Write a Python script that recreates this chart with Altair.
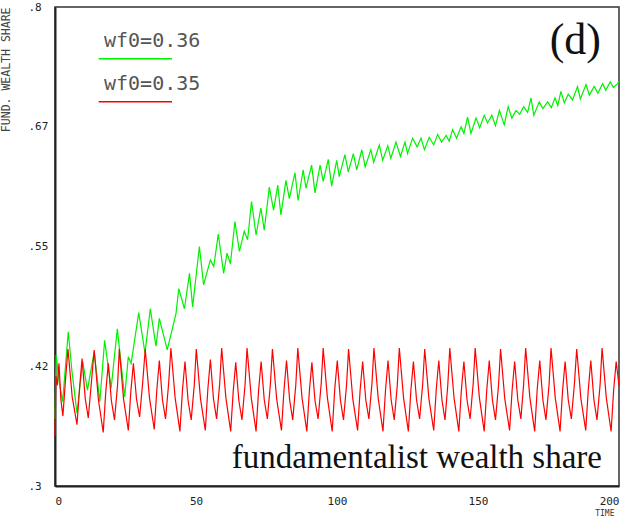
import altair as alt
import pandas as pd

# ---- data ----
series_names = ["wf0=0.36", "wf0=0.35"]
series_colors = ["#00f000", "#ff0000"]

green_t = [0.0, 0.4, 1.4, 2.7, 4.7, 6.0, 7.8, 9.8, 11.5, 13.9, 15.9, 17.6, 19.9, 22.1, 24.7, 26.0, 27.0,
           29.7, 31.9, 33.8, 35.8, 37.0, 39.8, 42.9, 43.9, 45.9, 47.7, 48.8, 51.2, 52.7, 55.1, 56.3,
           57.9, 59.8, 61.0, 62.2, 63.8, 65.4, 67.1, 68.3, 69.7, 71.3, 73.0, 74.2, 76.0, 77.5, 79.0,
           80.1, 81.9, 83.1, 85.1, 86.2, 88.0, 89.0, 91.0, 92.2, 94.0, 95.1, 96.9, 98.1, 99.9, 100.8,
           102.8, 104.0, 105.8, 107.0, 108.8, 110.0, 112.0, 113.0, 115.0, 116.2, 118.0, 119.1, 120.9,
           122.5, 124.1, 125.0, 126.8, 128.4, 129.8, 131.0, 132.7, 134.3, 135.7, 137.1, 138.7, 139.8,
           141.0, 142.4, 144.0, 145.0, 146.3, 147.5, 149.3, 150.6, 152.2, 153.4, 154.9, 156.2, 157.6,
           159.3, 160.7, 162.0, 163.5, 164.8, 166.2, 167.6, 168.8, 169.8, 171.7, 173.0, 174.7, 176.0,
           177.3, 178.3, 179.4, 180.6, 182.0, 183.5, 185.3, 186.3, 188.3, 189.5, 191.2, 192.5, 194.2,
           195.3, 196.9, 198.0, 199.5, 200.0]
green_v = [0.370, 0.437, 0.410, 0.388, 0.461, 0.420, 0.376, 0.430, 0.400, 0.440, 0.388, 0.452, 0.402,
           0.464, 0.393, 0.435, 0.428, 0.481, 0.439, 0.485, 0.446, 0.475, 0.442, 0.480, 0.506, 0.485,
           0.522, 0.487, 0.550, 0.510, 0.536, 0.529, 0.563, 0.522, 0.543, 0.532, 0.576, 0.545, 0.566,
           0.557, 0.597, 0.562, 0.590, 0.567, 0.612, 0.588, 0.614, 0.583, 0.619, 0.600, 0.627, 0.598,
           0.630, 0.611, 0.635, 0.606, 0.635, 0.618, 0.641, 0.613, 0.640, 0.623, 0.646, 0.628, 0.647,
           0.630, 0.651, 0.633, 0.651, 0.638, 0.656, 0.640, 0.655, 0.642, 0.659, 0.644, 0.659, 0.647,
           0.663, 0.654, 0.663, 0.651, 0.664, 0.656, 0.667, 0.659, 0.666, 0.660, 0.672, 0.663, 0.675,
           0.668, 0.685, 0.668, 0.684, 0.674, 0.687, 0.679, 0.687, 0.676, 0.692, 0.677, 0.696, 0.684,
           0.692, 0.688, 0.696, 0.690, 0.705, 0.687, 0.701, 0.694, 0.701, 0.695, 0.705, 0.697, 0.712,
           0.700, 0.709, 0.703, 0.717, 0.704, 0.719, 0.708, 0.717, 0.710, 0.720, 0.713, 0.722, 0.716,
           0.720, 0.722]

red_t = [0.0, 0.3, 0.8, 1.4, 2.1, 2.8, 3.7,
         4.6, 6.1, 7.8, 8.7, 9.6, 10.7, 11.8, 12.9,
         13.9, 15.4, 17.1, 18.0, 18.9, 20.0, 21.1, 22.2,
         22.8, 24.3, 26.0, 26.9, 27.8, 28.9, 30.0, 31.1,
         32.0, 33.5, 35.2, 36.1, 37.0, 38.1, 39.2, 40.3,
         41.1, 42.6, 44.3, 45.2, 46.1, 47.2, 48.3, 49.4,
         50.1, 51.6, 53.3, 54.2, 55.1, 56.2, 57.3, 58.4,
         59.1, 60.6, 62.3, 63.2, 64.1, 65.2, 66.3, 67.4,
         68.1, 69.6, 71.3, 72.2, 73.1, 74.2, 75.3, 76.4,
         77.1, 78.6, 80.3, 81.2, 82.1, 83.2, 84.3, 85.4,
         86.1, 87.6, 89.3, 90.2, 91.1, 92.2, 93.3, 94.4,
         95.1, 96.6, 98.3, 99.2, 100.1, 101.2, 102.3, 103.4,
         104.1, 105.6, 107.3, 108.2, 109.1, 110.2, 111.3, 112.4,
         113.1, 114.6, 116.3, 117.2, 118.1, 119.2, 120.3, 121.4,
         122.1, 123.6, 125.3, 126.2, 127.1, 128.2, 129.3, 130.4,
         131.1, 132.6, 134.3, 135.2, 136.1, 137.2, 138.3, 139.3,
         140.0, 141.5, 143.2, 144.1, 145.0, 146.1, 147.2, 148.3,
         149.0, 150.5, 152.2, 153.1, 154.0, 155.1, 156.2, 157.3,
         158.0, 159.5, 161.2, 162.1, 163.0, 164.1, 165.2, 166.2,
         166.9, 168.4, 170.1, 171.0, 171.9, 173.0, 174.1, 175.2,
         175.9, 177.4, 179.1, 180.0, 180.9, 182.0, 183.1, 184.2,
         185.0, 186.5, 188.2, 189.1, 190.0, 191.1, 192.2, 193.3,
         194.0, 195.5, 197.2, 198.1, 199.0, 200.0]
red_v = [0.352, 0.415, 0.405, 0.428, 0.390, 0.373, 0.410,
         0.443, 0.393, 0.364, 0.402, 0.433, 0.392, 0.371, 0.408,
         0.442, 0.390, 0.356, 0.398, 0.428, 0.389, 0.369, 0.406,
         0.443, 0.391, 0.358, 0.399, 0.428, 0.391, 0.372, 0.408,
         0.443, 0.392, 0.359, 0.400, 0.431, 0.390, 0.370, 0.407,
         0.444, 0.392, 0.357, 0.400, 0.430, 0.389, 0.369, 0.406,
         0.443, 0.391, 0.358, 0.401, 0.432, 0.391, 0.370, 0.407,
         0.444, 0.392, 0.357, 0.399, 0.429, 0.389, 0.369, 0.406,
         0.444, 0.392, 0.357, 0.400, 0.430, 0.390, 0.370, 0.407,
         0.443, 0.391, 0.358, 0.400, 0.431, 0.390, 0.369, 0.406,
         0.444, 0.392, 0.357, 0.399, 0.429, 0.389, 0.370, 0.407,
         0.444, 0.392, 0.357, 0.401, 0.431, 0.390, 0.369, 0.406,
         0.443, 0.391, 0.358, 0.400, 0.430, 0.390, 0.370, 0.407,
         0.444, 0.392, 0.357, 0.400, 0.431, 0.390, 0.369, 0.406,
         0.444, 0.392, 0.357, 0.400, 0.430, 0.390, 0.370, 0.407,
         0.443, 0.391, 0.358, 0.401, 0.431, 0.390, 0.369, 0.406,
         0.444, 0.392, 0.357, 0.400, 0.430, 0.390, 0.370, 0.407,
         0.444, 0.392, 0.357, 0.400, 0.431, 0.390, 0.369, 0.406,
         0.443, 0.391, 0.358, 0.400, 0.430, 0.390, 0.370, 0.407,
         0.444, 0.392, 0.357, 0.401, 0.431, 0.390, 0.369, 0.406,
         0.444, 0.392, 0.357, 0.400, 0.430, 0.390, 0.370, 0.407,
         0.443, 0.391, 0.358, 0.400, 0.431, 0.390, 0.369, 0.406,
         0.444, 0.392, 0.357, 0.400, 0.430, 0.405]

x_ticks = [0, 50, 100, 150, 200]
y_ticks = [0.3, 0.425, 0.55, 0.675, 0.8]
y_tick_labels = [".3", ".42", ".55", ".67", ".8"]
annotations = ["(d)", "fundamentalist wealth share"]

# ---- build table ----
df = pd.concat([
    pd.DataFrame({"t": green_t, "v": green_v, "s": series_names[0]}),
    pd.DataFrame({"t": red_t, "v": red_v, "s": series_names[1]}),
], ignore_index=True)

MONO = "DejaVu Sans Mono"
W, H = 564, 479

label_expr = "[" + ",".join("'%s'" % l for l in y_tick_labels) + "][indexof([" + \
    ",".join(str(v) for v in y_ticks) + "], datum.value)]"

x_enc = alt.X("t:Q", scale=alt.Scale(domain=[0, 200], nice=False, zero=False),
              axis=alt.Axis(values=x_ticks, title="TIME", labelFlush=True, ticks=False, grid=False,
                            labelFont=MONO, labelFontSize=11, labelColor="#222", labelPadding=9,
                            domainColor="#222", domainWidth=2,
                            titleFont=MONO, titleFontSize=8, titleFontWeight="normal", titleColor="#333",
                            titleAnchor="end", titleAlign="right", titleBaseline="top",
                            titleX=559, titleY=23))
y_enc = alt.Y("v:Q", scale=alt.Scale(domain=[0.3, 0.8], nice=False, zero=False),
              axis=alt.Axis(values=y_ticks, labelExpr=label_expr, title="FUND. WEALTH SHARE",
                            ticks=False, grid=False, labelAlign="left", labelBaseline="middle",
                            labelPadding=27, labelFont=MONO, labelFontSize=11, labelColor="#222",
                            domainColor="#222", domainWidth=2,
                            titleFont=MONO, titleFontSize=11.5, titleFontWeight="normal", titleColor="#444",
                            titleAngle=270, titleAlign="right", titleBaseline="middle",
                            titleX=-49, titleY=0))

color_scale = alt.Scale(domain=series_names, range=series_colors)
# symbol: a tiny symbol box whose path draws the sample line below the label
legend = alt.Legend(title=None, orient="none", legendX=29, legendY=24, padding=0,
                    symbolType="M4.7,17.8L78,17.8", symbolSize=4, symbolStrokeWidth=1.5,
                    labelOffset=0, labelFont=MONO, labelFontSize=20, labelColor="#555",
                    labelBaseline="middle", rowPadding=12, labelLimit=300)

base = alt.Chart(df)
green = base.transform_filter(alt.datum.s == series_names[0]).mark_line(strokeWidth=1.2).encode(
    x=x_enc, y=y_enc, color=alt.Color("s:N", scale=color_scale, legend=legend))
red = base.transform_filter(alt.datum.s == series_names[1]).mark_line(strokeWidth=1.2).encode(
    x=x_enc, y=y_enc, color=alt.Color("s:N", scale=color_scale, legend=legend))

ann_df = pd.DataFrame({"txt": annotations})
d_text = alt.Chart(ann_df).transform_filter(alt.datum.txt == annotations[0]).mark_text(
    font="Liberation Serif", fontSize=44, align="right", baseline="alphabetic", color="#111"
).encode(x=alt.value(546), y=alt.value(47), text="txt:N")
f_text = alt.Chart(ann_df).transform_filter(alt.datum.txt == annotations[1]).mark_text(
    font="Liberation Serif", fontSize=33, align="right", baseline="alphabetic", color="#111"
).encode(x=alt.value(547), y=alt.value(461), text="txt:N")

chart = alt.layer(green, red, d_text, f_text).properties(
    width=W, height=H,
    autosize=alt.AutoSizeParams(type="none"),
    padding={"left": 55, "top": 7, "right": 4, "bottom": 33},
    background="white",
).configure_view(stroke="#333", strokeWidth=1.5)

chart.save("out.html", embed_options={"renderer": "svg", "actions": False})
